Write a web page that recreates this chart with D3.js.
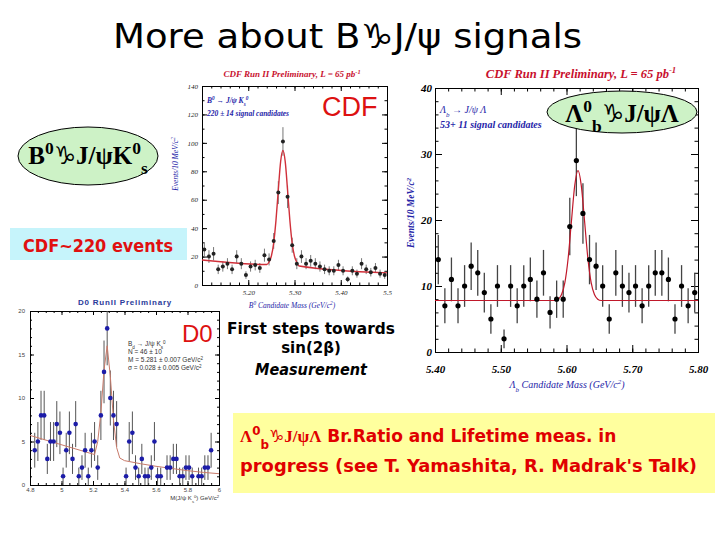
<!DOCTYPE html>
<html>
<head>
<meta charset="utf-8">
<script src="https://cdn.jsdelivr.net/npm/d3@7"></script>
<style>body{margin:0;background:#fff}</style>
</head>
<body>
<script>
// B0 -> J/psi Ks (CDF), 10 MeV bins
const b0Mass = [5.105,5.115,5.125,5.135,5.145,5.155,5.165,5.175,5.185,5.195,
                5.205,5.215,5.225,5.235,5.245,5.255,5.265,5.275,5.285,5.295,
                5.305,5.315,5.325,5.335,5.345,5.355,5.365,5.375,5.385,5.395,
                5.405,5.415,5.425,5.435,5.445,5.455,5.465,5.475,5.485,5.495];
const b0Counts = [25,20,22,11,13,15,11,20,15,7,
                  13,14,12,21,18,31,65,101,62,28,
                  15,20,15,17,15,13,11,10,10,14,
                  10,4,10,8,15,11,9,12,8,7];
const b0FitMass = [5.10,5.24,5.245,5.25,5.255,5.26,5.265,5.27,5.275,5.28,5.285,5.29,5.295,5.30,5.305,5.31,5.50];
const b0FitVal  = [17.6,14.4,16.2,20.4,29.5,45.6,66.9,86.8,94.7,86.6,66.7,45.4,29.3,20.2,15.9,13.4,8.5];
const b0XTicks = [5.2,5.3,5.4,5.5];
const b0XLabels = ['5.20','5.30','5.40','5.5'];
const b0YTicks = [0,20,40,60,80,100,120,140];

// Lambda_b -> J/psi Lambda (CDF), 10 MeV bins
const lbMass = [5.405,5.415,5.425,5.435,5.445,5.455,5.465,5.475,5.485,5.495,
                5.505,5.515,5.525,5.535,5.545,5.555,5.565,5.575,5.585,5.595,
                5.605,5.615,5.625,5.635,5.645,5.655,5.665,5.675,5.685,5.695,
                5.705,5.715,5.725,5.735,5.745,5.755,5.765,5.775,5.785,5.795];
const lbCounts = [14,7,11,7,10,13,12,9,5,10,
                  2,10,7,10,11,8,12,6,8,8,
                  19,29,21,14,13,10,5,12,10,9,
                  10,7,10,12,12,11,5,10,7,9];
const lbFitMass = [5.40,5.5825,5.5875,5.5925,5.5975,5.6025,5.6075,5.6125,5.6175,5.6225,5.6275,5.6325,5.6375,5.6425,5.6475,5.6525,5.80];
const lbFitVal  = [7.8,7.8,8.0,8.7,10.5,14.2,19.8,25.2,27.5,25.2,19.8,14.2,10.5,8.7,8.0,7.8,7.8];
const lbXTicks = [5.4,5.5,5.6,5.7,5.8];
const lbXLabels = ['5.40','5.50','5.60','5.70','5.80'];
const lbYTicks = [0,10,20,30,40];

// Bd -> J/psi Ks (D0), 20 MeV bins (empty bins left out)
const d0Mass = [4.83,4.85,4.87,4.89,4.91,4.93,4.95,4.97,4.99,5.01,
                5.03,5.05,5.07,5.09,5.11,5.13,5.15,5.17,5.19,5.21,
                5.23,5.25,5.27,5.29,5.31,5.33,5.35,
                5.41,5.43,5.45,5.47,5.49,5.51,5.53,5.55,5.57,5.59,5.61,5.63,
                5.67,5.69,5.71,5.73,5.75,5.77,5.79,5.81,5.83,
                5.87,5.89,5.91,5.93,5.95];
const d0Counts = [4,5,8,8,3,5,5,7,6,1,
                  4,6,3,7,1,2,4,1,4,5,
                  2,8,13,18,10,8,7,
                  1,5,6,2,1,3,1,1,2,5,1,1,
                  2,2,3,3,1,1,2,2,1,
                  1,1,2,2,4];
const d0FitMass = [4.80,5.21,5.23,5.25,5.27,5.29,5.31,5.33,5.35,5.37,5.40,5.50,5.60,5.70,5.80,5.90,6.00];
const d0FitVal  = [5.7,3.5,5.0,8.3,13.2,16.0,12.5,7.5,4.3,3.1,2.8,2.45,2.15,1.9,1.65,1.45,1.3];
const d0XTicks = [4.8,5.0,5.2,5.4,5.6,5.8,6.0];
const d0XLabels = ['4.8','5','5.2','5.4','5.6','5.8','6'];
const d0YTicks = [0,5,10,15,20];

const svg = d3.select('body').append('svg')
  .attr('width', 720).attr('height', 540);
svg.append('rect').attr('width', 720).attr('height', 540).attr('fill', '#fff');

const serif = "'Liberation Serif','DejaVu Serif',serif";
const sans = "'Liberation Sans','DejaVu Sans',sans-serif";
const comic = "'DejaVu Sans',sans-serif";

function drawPanel(p) {
  const x = d3.scaleLinear().domain(p.xDomain).range(p.xRange);
  const y = d3.scaleLinear().domain(p.yDomain).range(p.yRange);
  const g = svg.append('g');
  const [x0, x1] = p.xRange, [y0, y1] = p.yRange;

  function put(axis, tx, ty, labels) {
    const a = g.append('g').attr('transform', `translate(${tx},${ty})`).call(axis);
    a.attr('font-family', p.font).attr('font-size', p.fontSize)
     .attr('font-style', p.italic ? 'italic' : 'normal')
     .attr('font-weight', p.bold ? 'bold' : 'normal');
    a.selectAll('text').attr('fill', p.labelColor);
    a.selectAll('line,path').attr('stroke', '#000');
    if (!labels) a.selectAll('text').remove();
    return a;
  }
  // major ticks, inward
  put(d3.axisBottom(x).tickValues(p.xTicks).tickFormat((d, i) => p.xLabels[i])
      .tickSize(-p.tick).tickPadding(p.xPad), 0, y0, true);
  put(d3.axisLeft(y).tickValues(p.yTicks).tickFormat(d3.format('d'))
      .tickSize(-p.tick).tickPadding(p.yPad), x0, 0, true);
  put(d3.axisTop(x).tickValues(p.xTicks).tickSize(-p.tick), 0, y1, false);
  put(d3.axisRight(y).tickValues(p.yTicks).tickSize(-p.tick), x1, 0, false);
  // minor ticks
  put(d3.axisBottom(x).ticks(p.xMinor).tickSize(-p.tick / 2), 0, y0, false);
  put(d3.axisLeft(y).ticks(p.yMinor).tickSize(-p.tick / 2), x0, 0, false);
  put(d3.axisTop(x).ticks(p.xMinor).tickSize(-p.tick / 2), 0, y1, false);
  put(d3.axisRight(y).ticks(p.yMinor).tickSize(-p.tick / 2), x1, 0, false);

  const pts = p.mass.map((m, i) => ({m: m, n: p.counts[i]}));
  g.selectAll('line.err').data(pts).enter().append('line')
    .attr('x1', d => x(d.m)).attr('x2', d => x(d.m))
    .attr('y1', d => y(Math.max(0, d.n - Math.sqrt(d.n))))
    .attr('y2', d => y(Math.min(p.yDomain[1], d.n + Math.sqrt(d.n))))
    .attr('stroke', p.errColor).attr('stroke-width', p.errWidth);

  const line = d3.line().x(d => x(d[0])).y(d => y(d[1])).curve(p.curve);
  g.append('path')
    .datum(p.fitMass.map((m, i) => [m, p.fitVal[i]]))
    .attr('d', line).attr('fill', 'none')
    .attr('stroke', p.fitColor).attr('stroke-width', p.fitWidth);

  g.selectAll('circle').data(pts).enter().append('circle')
    .attr('cx', d => x(d.m)).attr('cy', d => y(d.n))
    .attr('r', p.r).attr('fill', p.dotColor);
}

drawPanel({
  xDomain: [5.10, 5.50], xRange: [202, 387], yDomain: [0, 140], yRange: [285, 86],
  xTicks: b0XTicks, xLabels: b0XLabels, yTicks: b0YTicks, xMinor: 20, yMinor: 14,
  tick: 5, xPad: 5, yPad: 4, font: serif, fontSize: 7, italic: true, bold: false, labelColor: '#222',
  mass: b0Mass, counts: b0Counts, fitMass: b0FitMass, fitVal: b0FitVal,
  curve: d3.curveMonotoneX, errColor: '#777', errWidth: 1, fitColor: '#d0303a', fitWidth: 1.4,
  r: 2, dotColor: '#222'
});

drawPanel({
  xDomain: [5.40, 5.80], xRange: [435, 698], yDomain: [0, 40], yRange: [352, 88],
  xTicks: lbXTicks, xLabels: lbXLabels, yTicks: lbYTicks, xMinor: 20, yMinor: 20,
  tick: 7, xPad: 13, yPad: 3, font: serif, fontSize: 11, italic: true, bold: true, labelColor: '#000',
  mass: lbMass, counts: lbCounts, fitMass: lbFitMass, fitVal: lbFitVal,
  curve: d3.curveMonotoneX, errColor: '#444', errWidth: 1.3, fitColor: '#c0182a', fitWidth: 1.2,
  r: 2.6, dotColor: '#000'
});

drawPanel({
  xDomain: [4.8, 6.0], xRange: [30, 219], yDomain: [0, 20], yRange: [485, 311],
  xTicks: d0XTicks, xLabels: d0XLabels, yTicks: d0YTicks, xMinor: 24, yMinor: 20,
  tick: 4, xPad: 3, yPad: 5, font: sans, fontSize: 6, italic: false, bold: false, labelColor: '#444',
  mass: d0Mass, counts: d0Counts, fitMass: d0FitMass, fitVal: d0FitVal,
  curve: d3.curveLinear, errColor: '#555', errWidth: 1, fitColor: '#c87a6a', fitWidth: 1,
  r: 2.3, dotColor: '#1c1ca8'
});

// helper for plain texts
function label(x, y, txt, o) {
  const t = svg.append('text').attr('x', x).attr('y', y)
    .attr('font-family', o.font).attr('font-size', o.size)
    .attr('font-weight', o.bold ? 'bold' : 'normal')
    .attr('font-style', o.italic ? 'italic' : 'normal')
    .attr('fill', o.color || '#000')
    .attr('text-anchor', o.anchor || 'start');
  if (o.len) t.attr('textLength', o.len).attr('lengthAdjust', 'spacingAndGlyphs');
  if (o.rotate) t.attr('transform', `rotate(-90,${x},${y})`);
  if (typeof txt === 'string') t.text(txt);
  else txt.forEach(s => {
    const sp = t.append('tspan').text(s[0]);
    if (s[1] === 'sup') sp.attr('baseline-shift', 'super').attr('font-size', o.size * 0.7);
    if (s[1] === 'sub') sp.attr('baseline-shift', 'sub').attr('font-size', o.size * 0.7);
    if (s[2]) sp.attr('font-family', s[2]);
  });
  return t;
}

// slide title
label(113, 48, 'More about  B\u2651J/\u03c8 signals', {font: comic, size: 34, len: 469});

// B0 CDF panel texts
const blue = '#2424a8', red = '#c8102e';
label(292, 77, [['CDF Run II Preliminary, L = 65 pb'], ['-1', 'sup']], {font: serif, size: 9, bold: true, italic: true, color: red, anchor: 'middle'});
label(207, 103, [['B'], ['0', 'sup'], [' \u2192 J/\u03c8 K'], ['s', 'sub'], ['0', 'sup']], {font: serif, size: 7.5, bold: true, italic: true, color: blue});
label(207, 116, '220 \u00b1 14 signal candidates', {font: serif, size: 7.5, bold: true, italic: true, color: blue});
label(322, 116, 'CDF', {font: sans, size: 27, color: '#dd1111'});
label(292, 308, [['B'], ['0', 'sup'], [' Candidate Mass (GeV/c'], ['2', 'sup'], [')']], {font: serif, size: 7.5, italic: true, color: blue, anchor: 'middle'});
label(178, 164, [['Events/10 MeV/c'], ['2', 'sup']], {font: serif, size: 7.5, italic: true, color: blue, anchor: 'middle', rotate: true});

// Lambda_b panel texts
label(581, 78, [['CDF Run II Preliminary, L = 65 pb'], ['-1', 'sup']], {font: serif, size: 12.5, bold: true, italic: true, color: red, anchor: 'middle'});
label(440, 113, [['\u039b'], ['b', 'sub'], [' \u2192 J/\u03c8 \u039b']], {font: serif, size: 10, italic: true, color: blue});
label(440, 128, '53+ 11 signal candidates', {font: serif, size: 10, bold: true, italic: true, color: blue});
label(567, 388, [['\u039b'], ['b', 'sub'], [' Candidate Mass (GeV/c'], ['2', 'sup'], [')']], {font: serif, size: 10, italic: true, color: blue, anchor: 'middle'});
label(414, 213, [['Events/10 MeV/c'], ['2', 'sup']], {font: serif, size: 9.5, bold: true, italic: true, color: blue, anchor: 'middle', rotate: true});

// D0 panel texts
label(125, 305, 'D0 RunII  Preliminary', {font: sans, size: 8, bold: true, color: '#2a3a9a', anchor: 'middle'}).attr('letter-spacing', 0.8);
label(182, 342, 'D0', {font: sans, size: 24, color: '#dd1111'});
const grey = '#333';
label(128, 346, [['B'], ['d', 'sub'], [' \u2192 J/\u03c8 K'], ['s', 'sub'], ['0', 'sup']], {font: sans, size: 6.5, color: grey});
label(128, 354, 'N =  46 \u00b1 10', {font: sans, size: 6.5, color: grey});
label(128, 362, [['M =  5.281 \u00b1 0.007 GeV/c'], ['2', 'sup']], {font: sans, size: 6.5, color: grey});
label(128, 370, [['\u03c3 = 0.028 \u00b1 0.005 GeV/c'], ['2', 'sup']], {font: sans, size: 6.5, color: grey});
label(219, 500, [['M(J/\u03c8 K'], ['s', 'sub'], ['0', 'sup'], [') GeV/c'], ['2', 'sup']], {font: sans, size: 6, color: grey, anchor: 'end'});

// green ellipses
svg.append('ellipse').attr('cx', 88).attr('cy', 156).attr('rx', 70).attr('ry', 29)
  .attr('fill', '#cdf2c6').attr('stroke', '#000').attr('stroke-width', 1);
label(88, 164, [['B'], ['0', 'sup'], ['\u2651', null, comic], ['J/\u03c8K'], ['0', 'sup'], ['s', 'sub']], {font: serif, size: 25, bold: true, anchor: 'middle'});

svg.append('ellipse').attr('cx', 622).attr('cy', 112).attr('rx', 75).attr('ry', 21)
  .attr('fill', '#cdf2c6').attr('stroke', '#000').attr('stroke-width', 1);
label(622, 122, [['\u039b'], ['0', 'sup'], ['b', 'sub'], ['\u2651', null, comic], ['J/\u03c8\u039b']], {font: serif, size: 25, bold: true, anchor: 'middle'});

// cyan box
svg.append('rect').attr('x', 10).attr('y', 228).attr('width', 177).attr('height', 32).attr('fill', '#c6f4fb');
label(98, 252, 'CDF~220 events', {font: comic, size: 18, bold: true, color: '#e01010', anchor: 'middle', len: 150});

// middle text
label(311, 334, 'First steps towards', {font: comic, size: 15, bold: true, anchor: 'middle', len: 168});
label(311, 353, 'sin(2\u03b2)', {font: comic, size: 15, bold: true, anchor: 'middle'});
label(311, 375, 'Measurement', {font: comic, size: 15, bold: true, italic: true, anchor: 'middle', len: 112});

// yellow box
svg.append('rect').attr('x', 233).attr('y', 413).attr('width', 482).attr('height', 80).attr('fill', '#ffff9e');
label(240, 442, [['\u039b', null, serif], ['0', 'sup'], ['b', 'sub'], ['\u2651'], ['J/\u03c8\u039b', null, serif], [' Br.Ratio and Lifetime meas. in']], {font: comic, size: 17, bold: true, color: '#e00000'});
label(240, 472, "progress (see T. Yamashita, R. Madrak's Talk)", {font: comic, size: 17, bold: true, color: '#e00000', len: 457});
</script>
</body>
</html>
